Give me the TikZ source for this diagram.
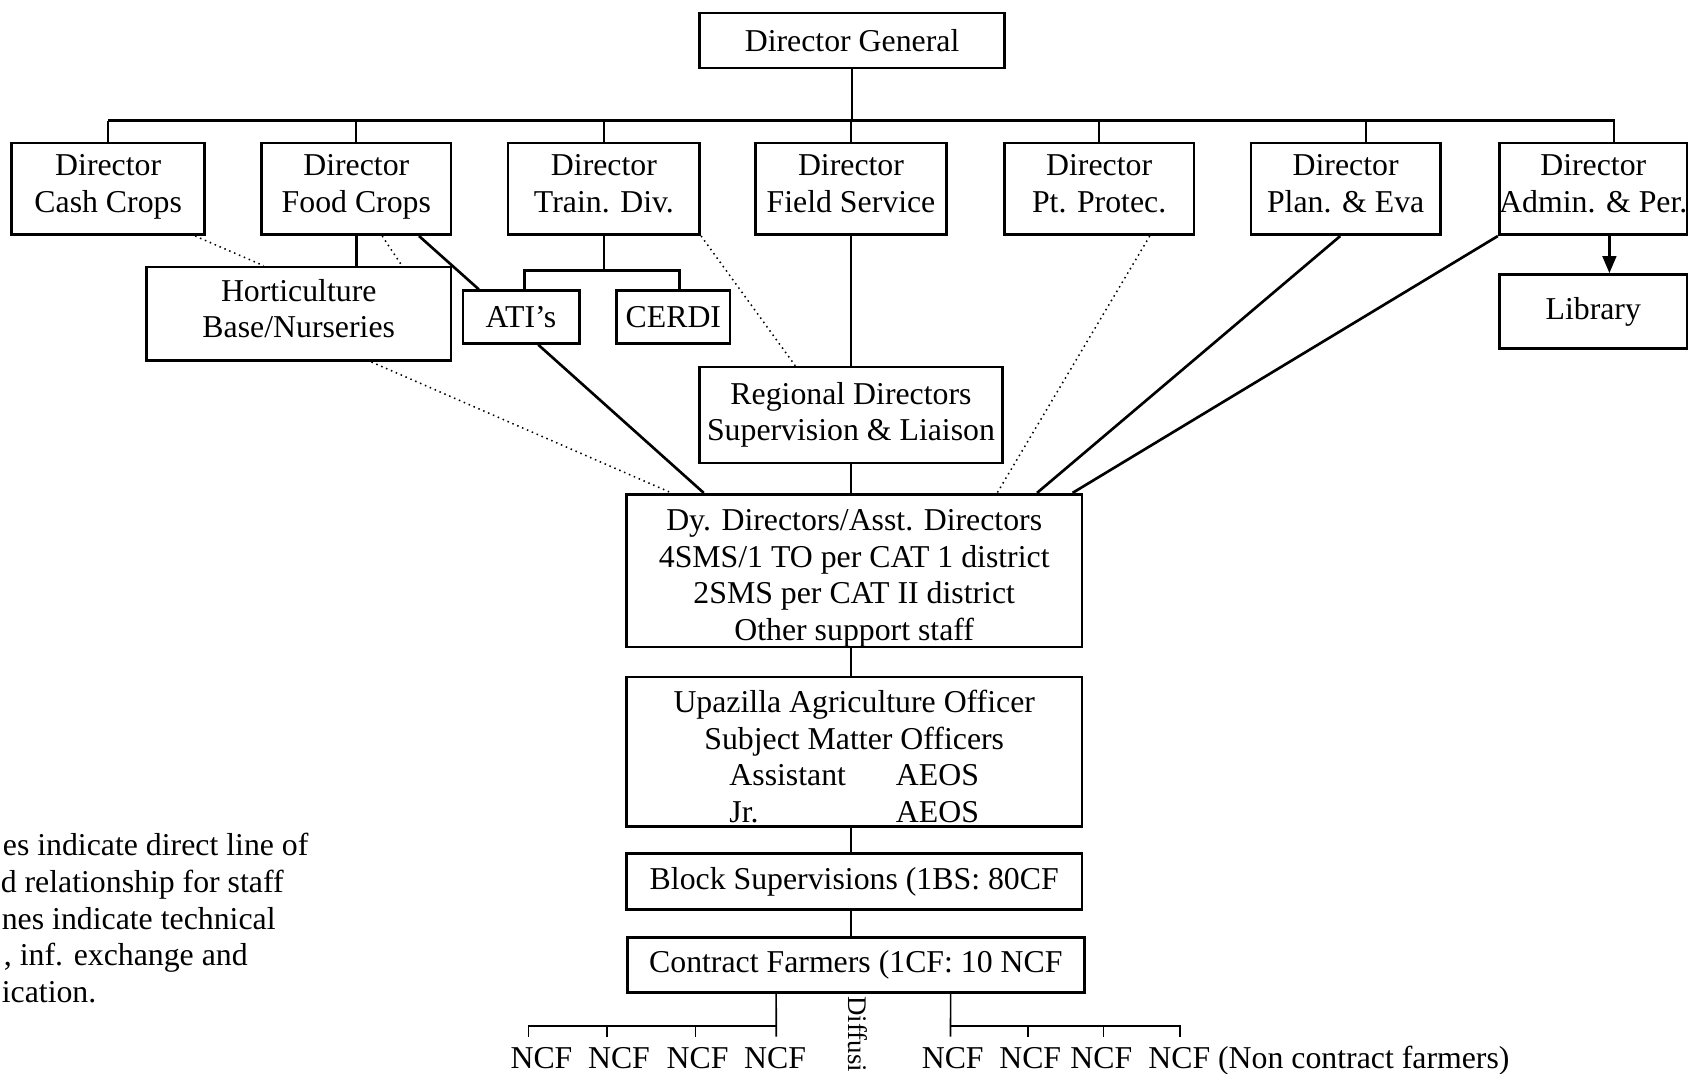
\documentclass[tikz,border=0pt]{standalone}
\usepackage{fontspec}
\setmainfont{Liberation Serif}
\usetikzlibrary{arrows.meta}
\newcommand{\orgfont}{\fontsize{8.4}{9.65}\selectfont}
\begin{document}
\begin{tikzpicture}[x=0.01cm,y=-0.01cm,
  box/.style={draw, line width=0.7pt, inner sep=0pt, align=center, font=\orgfont},
  solidln/.style={line width=0.7pt},
  thinln/.style={line width=0.45pt},
  dotln/.style={line width=0.4pt, densely dotted},
  lbl/.style={inner sep=0pt, font=\orgfont},
]
\path[use as bounding box] (0,0) rectangle (1568,997);
\clip (0,0) rectangle (1568,997);

% boxes
\node[box, minimum width=2.83cm, minimum height=0.51cm] (DG) at (791.5,37.5) {Director General};
\node[box, minimum width=1.79cm, minimum height=0.85cm] (Cash) at (100.5,175.5) {Director\\Cash Crops\strut};
\node[box, minimum width=1.76cm, minimum height=0.85cm] (Food) at (331,175.5) {Director\\Food Crops\strut};
\node[box, minimum width=1.78cm, minimum height=0.85cm] (Train) at (561,175.5) {Director\\Train. Div.\strut};
\node[box, minimum width=1.77cm, minimum height=0.85cm] (Field) at (790.5,175.5) {Director\\Field Service\strut};
\node[box, minimum width=1.76cm, minimum height=0.85cm] (Pt) at (1021,175.5) {Director\\Pt. Protec.\strut};
\node[box, minimum width=1.76cm, minimum height=0.85cm] (Plan) at (1250,175.5) {Director\\Plan. \& Eva\strut};
\node[box, minimum width=1.74cm, minimum height=0.85cm] (Admin) at (1480,175.5) {Director\\Admin. \& Per.\strut};
\node[box, minimum width=2.83cm, minimum height=0.87cm] (Hort) at (277.5,291.5) {Horticulture\\Base/Nurseries\strut};
\node[box, minimum width=1.08cm, minimum height=0.49cm] (ATI) at (484,294.5) {ATI's};
\node[box, minimum width=1.05cm, minimum height=0.49cm] (CERDI) at (625.5,294.5) {CERDI};
\node[box, minimum width=1.74cm, minimum height=0.69cm] (Library) at (1480,289.5) {\raisebox{1.3pt}{Library}};
\node[box, minimum width=2.81cm, minimum height=0.89cm] (Regional) at (790.5,385.5) {Regional Directors\\Supervision \& Liaison};
\node[box, minimum width=4.23cm, minimum height=1.40cm] (Dy) at (793.5,530) {\rule{0pt}{9.6pt}Dy. Directors/Asst. Directors\\4SMS/1 TO per CAT 1 district\\2SMS per CAT II district\\Other support staff};
\node[box, minimum width=4.23cm, minimum height=1.39cm] (Upa) at (793.5,698.5) {\rule{0pt}{8.3pt}Upazilla Agriculture Officer\\Subject Matter Officers\\\makebox[44pt][l]{Assistant}AEOS\\\makebox[44pt][l]{Jr.}AEOS};
\node[box, minimum width=4.23cm, minimum height=0.52cm] (Block) at (793.5,819) {Block Supervisions (1BS: 80CF};
\node[box, minimum width=4.24cm, minimum height=0.51cm] (Contract) at (795,896.5) {Contract Farmers (1CF: 10 NCF};

% top bus
\coordinate (busL) at (100.5,112);
\coordinate (busR) at (1500,112);
\draw[thinln] (DG.south) -- (DG.south |- busL);
\draw[line width=0.6pt] (busL) -- (busR);
\foreach \n in {Cash,Food,Train,Field,Pt} \draw[thinln] (\n.north) -- (\n.north |- busL);
\draw[thinln] ([xshift=0.19cm]Plan.north) -- ++(0,-21);
\draw[thinln] ([xshift=0.195cm]Admin.north) -- ++(0,-21);

% second level
\draw[solidln] (Food.south) -- (Food.south |- Hort.north);
\draw[solidln] (Train.south) -- ++(0,32) coordinate (tj);
\draw[solidln] ([xshift=0.03cm]ATI.north) |- (tj) -| ([xshift=0.055cm]CERDI.north);
\draw[dotln] ([xshift=-0.10cm]Cash.south east) -- ([xshift=1.10cm]Hort.north west);
\draw[dotln] ([xshift=0.24cm]Food.south) -- ([xshift=-0.47cm]Hort.north east);
\draw[solidln] ([xshift=-0.31cm]Food.south east) -- ([xshift=0.16cm]ATI.north west);
\draw[dotln] (Train.south east) -- ([xshift=0.90cm]Regional.north west);
\draw[solidln] (Field.south) -- (Regional.north);
\draw[solidln, -{Triangle[length=4.5pt,width=3.6pt]}] ([xshift=0.15cm]Admin.south) -- ([xshift=0.15cm]Library.north);

% to Dy
\draw[solidln] (Regional.south) -- (Regional.south |- Dy.north);
\draw[dotln] ([xshift=0.675cm]Hort.south) -- ([xshift=0.43cm]Dy.north west);
\draw[solidln] ([xshift=0.16cm]ATI.south) -- ([xshift=0.73cm]Dy.north west);
\draw[dotln] ([xshift=0.47cm]Pt.south) -- ([xshift=-0.80cm]Dy.north east);
\draw[solidln] ([xshift=-0.05cm]Plan.south) -- ([xshift=-0.43cm]Dy.north east);
\draw[solidln] (Admin.south west) -- ([xshift=-0.10cm]Dy.north east);

% vertical chain
\draw[solidln] (Regional.south |- Dy.south) -- (Regional.south |- Upa.north);
\draw[solidln] (Regional.south |- Upa.south) -- (Regional.south |- Block.north);
\draw[solidln] (Regional.south |- Block.south) -- (Regional.south |- Contract.north);

% NCF branches
\coordinate (lA) at (491,953); \coordinate (lB) at (564,953); \coordinate (lC) at (646,953); \coordinate (lD) at (721,953);
\coordinate (rA) at (883,953); \coordinate (rB) at (955,953); \coordinate (rC) at (1025,953); \coordinate (rD) at (1096,953);
\draw[thinln] ([xshift=-0.74cm]Contract.south) -- ([yshift=-0.10cm]lD);
\draw[thinln] ([yshift=-0.10cm]lA) -- (lA) -- (lD);
\foreach \c in {lB,lC} \draw[thinln] (\c) -- ++(0,10);
\draw[thinln] ([xshift=0.88cm]Contract.south) -- ([yshift=-0.10cm]rA);
\draw[solidln] (rA) -- (rD) -- ++(0,10);
\foreach \c in {rB,rC} \draw[thinln] (\c) -- ++(0,10);

\node[lbl, anchor=base] (n1) at (503,993) {NCF};
\node[lbl, anchor=base] (n2) at (575,993) {NCF};
\node[lbl, anchor=base] (n3) at (648,993) {NCF};
\node[lbl, anchor=base] (n4) at (720,993) {NCF};
\node[lbl, anchor=base] (n5) at (885,993) {NCF};
\node[lbl, anchor=base] (n6) at (957,993) {NCF};
\node[lbl, anchor=base] (n7) at (1023,993) {NCF};
\node[lbl, anchor=base west] (n8) at (1066,993) {NCF (Non contract farmers)};
\node[inner sep=0pt, font=\fontsize{7.1}{8}\selectfont, rotate=-90, anchor=west] (diff) at (797,925) {Diffusi};

% legend text (cut at left edge)
\node[lbl, anchor=base west] (t1) at (2,795) {es indicate direct line of};
\node[lbl, anchor=base west] (t2) at (0,829) {d relationship for staff};
\node[lbl, anchor=base west] (t3) at (1,863) {nes indicate technical};
\node[lbl, anchor=base west] (t4) at (3,897) {, inf. exchange and};
\node[lbl, anchor=base west] (t5) at (1,931) {ication.};
\end{tikzpicture}
\end{document}
